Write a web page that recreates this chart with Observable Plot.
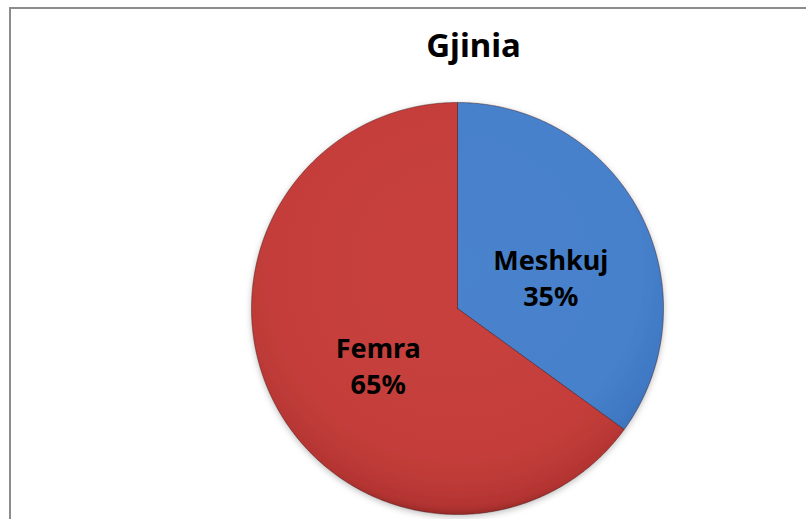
<!DOCTYPE html>
<html>
<head>
<meta charset="utf-8">
<script src="https://cdn.jsdelivr.net/npm/d3@7"></script>
<script src="https://cdn.jsdelivr.net/npm/@observablehq/plot@0.6"></script>
<style>
  html, body { margin: 0; padding: 0; background: #fff; }
  #wrap { position: relative; width: 806px; height: 519px; overflow: hidden; }
  #frame { position: absolute; left: 9px; top: 7px; width: 900px; height: 700px;
           border: 2px solid #8c8c8c; box-sizing: border-box; }
  #chart { position: absolute; left: 0; top: 0; }
</style>
</head>
<body>
<div id="wrap"><div id="frame"></div><div id="chart"></div></div>
<script>
const title = "Gjinia";
const categories = ["Meshkuj", "Femra"];
const values = [35, 65];
const percentLabels = ["35%", "65%"];
const fills = ["url(#gBlue)", "url(#gRed)"];

const W = 806, H = 519, CX = 457, CY = 308, R = 206;

const arcs = d3.pie().sort(null).value(d => d.value)(
  categories.map((c, i) => ({label: c, value: values[i], pct: percentLabels[i], fill: fills[i]}))
);

// polygon outline of each slice (center -> arc -> center), unit radius
const pts = [];
for (const a of arcs) {
  const n = Math.max(2, Math.ceil((a.endAngle - a.startAngle) / 0.01));
  pts.push({label: a.data.label, fill: a.data.fill, x: 0, y: 0});
  for (let k = 0; k <= n; k++) {
    const t = a.startAngle + (a.endAngle - a.startAngle) * k / n;
    pts.push({label: a.data.label, fill: a.data.fill, x: Math.sin(t), y: Math.cos(t)});
  }
  pts.push({label: a.data.label, fill: a.data.fill, x: 0, y: 0});
}

const labels = arcs.map(a => {
  const m = (a.startAngle + a.endAngle) / 2;
  return {x: 0.47 * Math.sin(m), y: 0.47 * Math.cos(m), text: a.data.label + "\n" + a.data.pct};
});

const plot = Plot.plot({
  width: W, height: H,
  margin: 0,
  x: {domain: [-CX / R, (W - CX) / R], axis: null},
  y: {domain: [-(H - CY) / R, CY / R], axis: null},
  color: {type: "identity"},
  style: {background: "transparent"},
  marks: [
    Plot.line(pts, {x: "x", y: "y", z: "label", fill: "fill", stroke: "rgba(60,20,20,0.45)", strokeWidth: 1, curve: "linear"}),
    Plot.text(labels, {x: "x", y: "y", text: "text", dx: 7, dy: 12, fontSize: 27, fontWeight: "bold",
      fontFamily: "'Noto Sans', 'Open Sans', sans-serif", fill: "#000", lineHeight: 1.35}),
    Plot.text([title], {frameAnchor: "top", dx: 473 - W / 2, dy: 33, lineAnchor: "top", fontSize: 33,
      fontWeight: "bold", fontFamily: "'Noto Sans', 'Open Sans', sans-serif", fill: "#000"})
  ]
});

const defs = `
<defs>
  <radialGradient id="gBlue" gradientUnits="userSpaceOnUse" cx="${CX}" cy="${CY - 40}" r="${R + 40}">
    <stop offset="0" stop-color="#4a83cc"/>
    <stop offset="0.75" stop-color="#4680cb"/>
    <stop offset="0.9" stop-color="#3f78c3"/>
    <stop offset="0.97" stop-color="#3a70b8"/>
    <stop offset="1" stop-color="#2f5f9f"/>
  </radialGradient>
  <radialGradient id="gRed" gradientUnits="userSpaceOnUse" cx="${CX}" cy="${CY - 40}" r="${R + 40}">
    <stop offset="0" stop-color="#c8413e"/>
    <stop offset="0.75" stop-color="#c43e3b"/>
    <stop offset="0.9" stop-color="#bb3936"/>
    <stop offset="0.97" stop-color="#b23331"/>
    <stop offset="1" stop-color="#982a28"/>
  </radialGradient>
  <filter id="shadow" x="-10%" y="-10%" width="120%" height="120%">
    <feDropShadow dx="0" dy="2" stdDeviation="3" flood-color="#000" flood-opacity="0.25"/>
  </filter>
</defs>`;
plot.insertAdjacentHTML("afterbegin", defs);
const lineG = plot.querySelector("g[aria-label='line']");
if (lineG) lineG.setAttribute("filter", "url(#shadow)");
document.getElementById("chart").appendChild(plot);
</script>
</body>
</html>
